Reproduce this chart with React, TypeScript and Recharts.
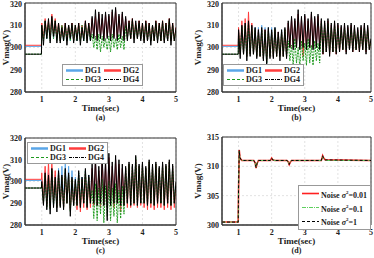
import React from 'react'
import { LineChart, Line, XAxis, YAxis, CartesianGrid, ReferenceArea, Legend } from 'recharts'

/* ── data ── */

const time = [0.5, 0.99, 1, 1.05, 1.1, 1.15, 1.2, 1.25, 1.3, 1.35, 1.4, 1.45, 1.5, 1.55, 1.6, 1.65, 1.7, 1.75, 1.8, 1.85, 1.9, 1.95, 2, 2.05, 2.1, 2.15, 2.2, 2.25, 2.3, 2.35, 2.4, 2.45, 2.5, 2.55, 2.6, 2.65, 2.7, 2.75, 2.8, 2.85, 2.9, 2.95, 3, 3.05, 3.1, 3.15, 3.2, 3.25, 3.3, 3.35, 3.4, 3.45, 3.5, 3.55, 3.6, 3.65, 3.7, 3.75, 3.8, 3.85, 3.9, 3.95, 4, 4.05, 4.1, 4.15, 4.2, 4.25, 4.3, 4.35, 4.4, 4.45, 4.5, 4.55, 4.6, 4.65, 4.7, 4.75, 4.8, 4.85, 4.9, 4.95, 5]

// (a)
const aDG1 = [300.5, 300.5,
  310, 304, 311, 304, 311, 304, 313, 304, 312, 304,
  310, 303, 310, 303, 310, 303, 310, 303, 310, 303,
  310, 303, 310, 303, 310, 303, 311, 303, 310, 303,
  313, 305, 314, 304, 315, 305, 313, 304, 315, 305,
  314, 304, 316, 305, 317, 304, 314, 305, 315, 304,
  313, 304, 311, 304, 312, 304, 310, 304, 311, 304,
  310, 303, 311, 303, 310, 303, 310, 303, 311, 303,
  310, 303, 311, 303, 310, 303, 312, 303, 310, 303,
  308]
const aDG2 = [301, 301,
  311, 304, 313, 305, 312, 304, 315, 305, 313, 304,
  311, 303, 310, 304, 311, 303, 310, 304, 311, 303,
  310, 304, 311, 303, 310, 304, 312, 303, 311, 304,
  313, 305, 314, 304, 315, 305, 313, 304, 315, 305,
  314, 304, 316, 305, 317, 304, 314, 305, 315, 304,
  313, 304, 312, 304, 313, 304, 311, 304, 312, 304,
  311, 303, 312, 303, 311, 303, 310, 303, 312, 303,
  311, 303, 312, 303, 311, 303, 313, 303, 311, 303,
  309]
const aDG3 = [297, 297,
  310, 303, 312, 304, 311, 303, 313, 304, 312, 303,
  310, 303, 310, 303, 310, 303, 310, 303, 310, 303,
  310, 303, 310, 303, 310, 303, 311, 303, 310, 303,
  306, 300, 305, 299, 306, 298, 305, 300, 304, 299,
  305, 298, 306, 300, 304, 299, 306, 300, 305, 299,
  310, 304, 311, 304, 312, 304, 310, 304, 311, 304,
  310, 303, 311, 303, 310, 303, 310, 303, 311, 303,
  310, 303, 311, 303, 310, 303, 312, 303, 310, 303,
  308]
const aDG4 = [297, 297,
  310, 301, 312, 304, 313, 302, 314, 305, 312, 302,
  311, 302, 309, 303, 311, 301, 310, 304, 311, 302,
  310, 303, 311, 301, 309, 303, 312, 302, 311, 303,
  314, 304, 317, 303, 316, 304, 315, 303, 316, 304,
  315, 303, 317, 304, 318, 303, 315, 304, 316, 303,
  314, 303, 312, 304, 313, 302, 312, 304, 312, 303,
  311, 302, 312, 303, 311, 301, 310, 303, 312, 302,
  311, 303, 312, 302, 311, 303, 313, 301, 311, 303,
  309]

// (b)
const bDG1 = [300.5, 300.5,
  308, 297, 310, 297, 311, 296, 312, 297, 310, 297,
  309, 296, 309, 296, 310, 295, 309, 293, 309, 296,
  309, 296, 309, 296, 307, 296, 308, 296, 308, 296,
  311, 300, 313, 300, 312, 300, 315, 300, 313, 300,
  314, 300, 312, 300, 315, 300, 313, 300, 314, 300,
  312, 298, 311, 298, 312, 298, 310, 298, 311, 298,
  310, 299, 309, 299, 310, 299, 309, 299, 310, 299,
  309, 299, 308, 299, 309, 299, 310, 299, 309, 299,
  303]
const bDG2 = [301, 301,
  309, 297, 312, 297, 313, 296, 316, 297, 311, 297,
  308, 296, 308, 296, 308, 295, 308, 294, 308, 296,
  307, 296, 308, 296, 307, 296, 307, 296, 308, 296,
  311, 300, 313, 300, 312, 300, 315, 300, 313, 296,
  314, 300, 312, 300, 315, 300, 313, 300, 314, 300,
  312, 297, 311, 298, 312, 297, 310, 298, 311, 297,
  310, 298, 309, 299, 310, 298, 309, 299, 310, 298,
  309, 299, 308, 298, 309, 299, 310, 298, 309, 299,
  303]
const bDG3 = [297, 297,
  307, 297, 309, 297, 310, 296, 311, 297, 309, 297,
  308, 296, 307, 296, 308, 295, 307, 293, 308, 296,
  307, 296, 308, 296, 306, 296, 307, 296, 308, 296,
  303, 294, 301, 292, 304, 293, 300, 291, 303, 294,
  302, 292, 304, 293, 301, 292, 303, 294, 302, 293,
  311, 298, 310, 298, 311, 298, 309, 298, 310, 298,
  309, 299, 308, 299, 309, 299, 308, 299, 309, 299,
  308, 299, 307, 299, 308, 299, 309, 299, 308, 299,
  303]
const bDG4 = [297, 297,
  308, 295, 310, 297, 311, 294, 312, 296, 310, 297,
  309, 295, 308, 296, 309, 294, 308, 292, 309, 295,
  308, 295, 309, 296, 307, 294, 308, 296, 309, 295,
  312, 300, 314, 299, 313, 300, 317, 299, 314, 300,
  315, 299, 313, 300, 316, 299, 314, 300, 315, 299,
  313, 297, 312, 298, 313, 296, 311, 298, 312, 297,
  311, 298, 310, 299, 311, 297, 310, 299, 311, 298,
  310, 299, 309, 298, 310, 299, 311, 297, 310, 299,
  304]

// (c)
const cDG1 = [300.5, 300.5,
  301, 290, 305, 289, 304, 288, 306, 289, 303, 288,
  306, 289, 307, 289, 308, 290, 307, 287, 305, 289,
  302, 289, 304, 289, 302, 290, 305, 289, 303, 290,
  306, 289, 309, 289, 305, 288, 310, 289, 308, 289,
  311, 289, 307, 289, 310, 290, 308, 288, 306, 289,
  306, 290, 308, 289, 307, 290, 310, 289, 307, 290,
  308, 290, 306, 289, 309, 290, 307, 289, 308, 290,
  306, 290, 308, 289, 307, 290, 309, 289, 307, 290,
  299]
const cDG2 = [301, 301,
  304, 290, 307, 289, 309, 288, 308, 290, 305, 288,
  304, 289, 302, 288, 304, 290, 303, 287, 301, 289,
  300, 287, 303, 286, 301, 288, 304, 287, 302, 288,
  306, 289, 309, 289, 305, 288, 310, 289, 308, 288,
  311, 289, 307, 288, 310, 290, 308, 286, 306, 289,
  306, 288, 308, 288, 307, 289, 310, 288, 307, 289,
  308, 288, 306, 287, 309, 288, 307, 287, 308, 288,
  306, 288, 308, 287, 307, 288, 309, 287, 307, 288,
  299]
const cDG3 = [297, 297,
  299, 290, 303, 288, 302, 287, 305, 289, 301, 288,
  304, 289, 302, 288, 305, 290, 303, 286, 301, 289,
  300, 289, 304, 289, 301, 290, 305, 289, 302, 290,
  296, 283, 299, 282, 297, 285, 301, 281, 298, 284,
  300, 282, 297, 284, 299, 281, 296, 283, 298, 285,
  306, 290, 308, 289, 307, 290, 311, 289, 307, 290,
  308, 290, 306, 289, 309, 290, 307, 289, 308, 290,
  306, 290, 308, 289, 307, 290, 309, 289, 307, 290,
  299]
const cDG4 = [297, 297,
  300, 289, 304, 287, 303, 285, 306, 288, 302, 286,
  305, 288, 303, 287, 306, 290, 304, 284, 302, 289,
  301, 289, 305, 288, 302, 290, 306, 288, 303, 290,
  308, 290, 311, 289, 307, 290, 312, 289, 310, 282,
  313, 289, 309, 290, 312, 290, 310, 289, 308, 289,
  307, 290, 309, 289, 308, 290, 312, 289, 308, 290,
  309, 290, 307, 289, 310, 290, 308, 289, 309, 290,
  307, 290, 309, 289, 308, 290, 310, 289, 308, 290,
  300]

// (d)
const dTime = [0.5, 0.99, 1, 1.02, 1.04, 1.07, 1.1, 1.2, 1.46, 1.5, 1.53, 1.56, 1.6, 1.96, 2, 2.03, 2.1, 2.46, 2.5, 2.53, 2.56, 2.6, 3.5, 3.54, 3.57, 3.62, 5]
const dNoise001 = [300.5, 300.5, 306, 312.8, 311.6, 311.2, 311, 311, 311, 310.6, 309.7, 310.5, 311, 311, 311.4, 311.1, 311, 311, 310.8, 310.3, 310.7, 311, 311, 311.8, 311.4, 311.1, 311]
const dNoise01 = [300.5, 300.5, 306.5, 312.6, 311.5, 311.1, 311, 311, 311, 310.5, 309.8, 310.6, 311, 311, 311.3, 311.1, 311, 311, 310.7, 310.4, 310.8, 311, 311, 311.7, 311.3, 311, 311]
const dNoise1 = [300.5, 300.5, 306.2, 312.7, 311.5, 311.2, 311, 311, 311, 310.6, 309.8, 310.5, 311, 311, 311.4, 311.1, 311, 311, 310.8, 310.3, 310.7, 311, 311, 311.8, 311.3, 311.1, 311]

const xTicks = [1, 2, 3, 4, 5]
const vTicks = [280, 290, 300, 310, 320]
const dTicks = [300, 305, 310, 315]

/* ── styles ── */

const FONT = '"Liberation Serif", "Times New Roman", serif'
const tickStyle = { fill: '#222', fontSize: 8, fontWeight: 700, fontFamily: FONT }

const dgSeries = [
  { key: 'dg1', name: 'DG1', color: '#5aa6e8', width: 1, dash: undefined as string | undefined, legendW: 2.5 },
  { key: 'dg2', name: 'DG2', color: '#ff3b3b', width: 1, dash: undefined, legendW: 2.5 },
  { key: 'dg3', name: 'DG3', color: '#1e9a1e', width: 1, dash: '2 1', legendW: 1.2 },
  { key: 'dg4', name: 'DG4', color: '#000', width: 1, dash: undefined, legendW: 1 },
]
const dgLegendDash: Record<string, string | undefined> = { dg3: '3 2', dg4: '3 1 1 1' }

const noiseSeries = [
  { key: 'n001', exp: '0.01', color: '#ff2020', width: 1.6, dash: undefined as string | undefined },
  { key: 'n01', exp: '0.1', color: '#5fd05f', width: 1, dash: '4 1 1 1' },
  { key: 'n1', exp: '1', color: '#000', width: 1, dash: '3 2' },
]

function buildDg(d1: number[], d2: number[], d3: number[], d4: number[]) {
  return time.map((t, i) => ({ t, dg1: d1[i], dg2: d2[i], dg3: d3[i], dg4: d4[i] }))
}

const dataA = buildDg(aDG1, aDG2, aDG3, aDG4)
const dataB = buildDg(bDG1, bDG2, bDG3, bDG4)
const dataC = buildDg(cDG1, cDG2, cDG3, cDG4)
const dataD = dTime.map((t, i) => ({ t, n001: dNoise001[i], n01: dNoise01[i], n1: dNoise1[i] }))

/* ── labels / legends ── */

function YLabel({ viewBox, lx }: any) {
  const cy = viewBox.y + viewBox.height / 2
  return (
    <text x={lx} y={cy} transform={`rotate(-90 ${lx} ${cy})`} textAnchor="middle"
      style={{ fontFamily: FONT, fontSize: 9, fontWeight: 700, fill: '#222' }}>
      Vmag(V)
    </text>
  )
}

function XLabel({ viewBox, tag }: any) {
  const cx = viewBox.x + viewBox.width / 2
  return (
    <g style={{ fontFamily: FONT, fontWeight: 700, fill: '#222' }}>
      <text x={cx} y={viewBox.y + 19} textAnchor="middle" fontSize={9}>Time(sec)</text>
      <text x={cx} y={viewBox.y + 28} textAnchor="middle" fontSize={8}>{tag}</text>
    </g>
  )
}

function Sample({ color, w, dash }: { color: string; w: number; dash?: string }) {
  return (
    <svg width={17} height={5} style={{ display: 'block' }}>
      <line x1={0} y1={2.5} x2={17} y2={2.5} stroke={color} strokeWidth={w} strokeDasharray={dash} />
    </svg>
  )
}

function DgLegend() {
  return (
    <div style={{
      display: 'grid', gridTemplateColumns: 'auto auto', columnGap: 3, rowGap: 0,
      background: '#fff', border: '1px solid #999', padding: '1px 3px',
      fontFamily: FONT, fontWeight: 700, fontSize: 8, lineHeight: '9px', color: '#222',
    }}>
      {dgSeries.map((s) => (
        <div key={s.key} style={{ display: 'flex', alignItems: 'center', gap: 2 }}>
          <Sample color={s.color} w={s.legendW} dash={dgLegendDash[s.key]} />
          <span>{s.name}</span>
        </div>
      ))}
    </div>
  )
}

function NoiseLegend() {
  return (
    <div style={{
      background: '#fff', border: '1px solid #999', padding: '1px 3px',
      fontFamily: FONT, fontWeight: 700, fontSize: 8, lineHeight: '11px', color: '#222',
    }}>
      {noiseSeries.map((s) => (
        <div key={s.key} style={{ display: 'flex', alignItems: 'center', gap: 2 }}>
          <Sample color={s.color} w={s.width} dash={s.dash} />
          <span>Noise <i>σ</i><sup style={{ fontSize: 5 }}>2</sup>={s.exp}</span>
        </div>
      ))}
    </div>
  )
}

/* ── panel ── */

interface PanelProps {
  left: number
  top: number
  data: any[]
  yDomain: [number, number]
  yTicks: number[]
  yW: number
  lx: number
  margin: { top: number; right: number; left: number; bottom: number }
  xH: number
  tag: string
  legendPos: { left: number; top: number }
  noise?: boolean
}

function Panel({ left, top, data, yDomain, yTicks, yW, lx, margin, xH, tag, legendPos, noise }: PanelProps) {
  return (
    <div style={{ position: 'absolute', left, top, width: 187, height: 129 }}>
      <LineChart width={187} height={129} data={data} margin={margin}>
        <CartesianGrid stroke="#e2e2e2" strokeDasharray="2 2" />
        <XAxis dataKey="t" type="number" domain={[0.5, 5]} ticks={xTicks} allowDataOverflow
          tick={tickStyle} tickLine={false} tickSize={3} tickMargin={1} height={xH}
          axisLine={{ stroke: '#333' }} label={<XLabel tag={tag} />} />
        <YAxis type="number" domain={yDomain} ticks={yTicks} allowDataOverflow width={yW}
          tick={tickStyle} tickLine={false} tickSize={2} tickMargin={1}
          axisLine={{ stroke: '#333' }} label={<YLabel lx={lx} />} />
        <ReferenceArea x1={0.5} x2={5} y1={yDomain[0]} y2={yDomain[1]} fill="none" stroke="#333" strokeWidth={1} />
        {noise
          ? noiseSeries.map((s) => (
            <Line key={s.key} type="linear" dataKey={s.key} stroke={s.color} strokeWidth={s.width}
              strokeDasharray={s.dash} dot={false} isAnimationActive={false} />
          ))
          : dgSeries.map((s) => (
            <Line key={s.key} type="linear" dataKey={s.key} name={s.name} stroke={s.color} strokeWidth={s.width}
              strokeDasharray={s.dash} dot={false} isAnimationActive={false} />
          ))}
        <Legend layout="vertical" align="center" verticalAlign="middle"
          wrapperStyle={{ left: legendPos.left, top: legendPos.top, width: 'auto', height: 'auto' }}
          content={() => (noise ? <NoiseLegend /> : <DgLegend />)} />
      </LineChart>
    </div>
  )
}

export default function App() {
  return (
    <div style={{ position: 'absolute', left: 0, top: 0, width: 374, height: 258, background: '#fff' }}>
      <Panel left={0} top={0} data={dataA} yDomain={[280, 320]} yTicks={vTicks} yW={25} lx={9}
        margin={{ top: 3, right: 11, left: 0, bottom: 0 }} xH={37} tag="(a)" legendPos={{ left: 62, top: 64 }} />
      <Panel left={187} top={0} data={dataB} yDomain={[280, 320]} yTicks={vTicks} yW={35} lx={14}
        margin={{ top: 3, right: 3, left: 0, bottom: 0 }} xH={37} tag="(b)" legendPos={{ left: 36, top: 64 }} />
      <Panel left={0} top={129} data={dataC} yDomain={[280, 320]} yTicks={vTicks} yW={25} lx={9}
        margin={{ top: 9, right: 11, left: 0, bottom: 0 }} xH={33} tag="(c)" legendPos={{ left: 27, top: 13 }} />
      <Panel left={187} top={129} data={dataD} yDomain={[300, 315]} yTicks={dTicks} yW={35} lx={14}
        margin={{ top: 8, right: 3, left: 0, bottom: 0 }} xH={33} tag="(d)" legendPos={{ left: 111, top: 56 }} noise />
    </div>
  )
}
